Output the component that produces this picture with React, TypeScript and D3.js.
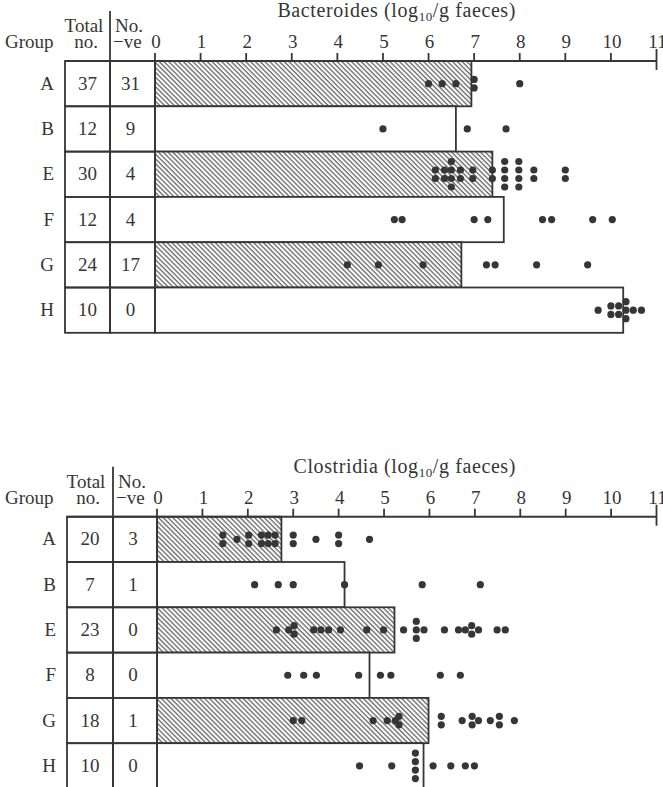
import React, { useEffect, useRef } from "react";
import * as d3 from "d3";

const groups = ["A", "B", "E", "F", "G", "H"];
const ticks = [0, 1, 2, 3, 4, 5, 6, 7, 8, 9, 10, 11];

// Bacteroides
const bactTotal = [37, 12, 30, 12, 24, 10];
const bactNeg = [31, 9, 4, 4, 17, 0];
const bactLevel = [6.94, 6.6, 7.4, 7.65, 6.72, 10.27];
const bactPoints = [
  [6.0, 6.3, 6.6, 7.0, 7.0, 8.0],
  [5.0, 6.85, 7.7],
  [6.15, 6.15, 6.35, 6.35, 6.5, 6.5, 6.5, 6.5, 6.7, 6.7, 6.97, 6.97, 7.4, 7.4,
    7.67, 7.67, 7.67, 7.67, 7.98, 7.98, 7.98, 7.98, 8.31, 8.31, 9.0, 9.0],
  [5.25, 5.42, 7.0, 7.3, 8.5, 8.7, 9.6, 10.03],
  [4.22, 4.9, 5.88, 7.27, 7.46, 8.37, 9.49],
  [9.72, 10.0, 10.0, 10.17, 10.17, 10.33, 10.33, 10.33, 10.49, 10.67],
];

// Clostridia
const closTotal = [20, 7, 23, 8, 18, 10];
const closNeg = [3, 1, 0, 0, 1, 0];
const closLevel = [2.74, 4.13, 5.23, 4.68, 5.98, 5.87];
const closPoints = [
  [1.45, 1.45, 1.76, 2.02, 2.02, 2.3, 2.3, 2.45, 2.45, 2.6, 2.6, 3.0, 3.0, 3.5,
    4.0, 4.0, 4.68],
  [2.15, 2.67, 3.0, 4.13, 5.84, 7.12],
  [2.63, 2.9, 3.02, 3.02, 3.45, 3.61, 3.78, 4.04, 4.62, 4.99, 5.43, 5.71, 5.71,
    5.71, 5.88, 6.33, 6.64, 6.79, 6.93, 6.93, 7.08, 7.49, 7.67],
  [2.88, 3.23, 3.51, 4.44, 4.92, 5.15, 6.24, 6.68],
  [3.0, 3.19, 4.76, 5.07, 5.25, 5.33, 5.33, 6.26, 6.26, 6.72, 6.94, 6.94, 7.08,
    7.34, 7.54, 7.54, 7.87],
  [4.46, 5.17, 5.69, 5.69, 5.69, 5.69, 6.08, 6.47, 6.79, 6.99],
];

const ink = "#363636";
const font = "'Liberation Serif', 'Times New Roman', serif";

function drawPanel(svg, opts) {
  const { axisY, x0, tableLeft, divider, title, totals, negs, levels, points } = opts;
  const rowH = 45.3;
  const x = d3.scaleLinear().domain([0, 11]).range([x0, 656.5]);
  const y = d3
    .scaleBand()
    .domain(groups)
    .range([axisY, axisY + rowH * groups.length]);

  const g = svg.append("g");

  // bars
  g.selectAll("rect.bar")
    .data(groups)
    .join("rect")
    .attr("class", "bar")
    .attr("x", x(0))
    .attr("y", (d) => y(d))
    .attr("width", (d, i) => x(levels[i]) - x(0))
    .attr("height", y.bandwidth())
    .attr("fill", (d, i) => (i % 2 === 0 ? "url(#hatch)" : "white"))
    .attr("stroke", ink)
    .attr("stroke-width", 1.8);

  // table cells
  groups.forEach((grp, i) => {
    g.append("rect")
      .attr("x", tableLeft)
      .attr("y", y(grp))
      .attr("width", divider - tableLeft)
      .attr("height", y.bandwidth())
      .attr("fill", "none")
      .attr("stroke", ink)
      .attr("stroke-width", 1.8);
    g.append("rect")
      .attr("x", divider)
      .attr("y", y(grp))
      .attr("width", x0 - divider)
      .attr("height", y.bandwidth())
      .attr("fill", "none")
      .attr("stroke", ink)
      .attr("stroke-width", 1.8);
    const cy = y(grp) + y.bandwidth() / 2 + 6;
    g.append("text").attr("x", tableLeft - 11).attr("y", cy)
      .attr("text-anchor", "end").text(grp);
    g.append("text").attr("x", (tableLeft + divider) / 2).attr("y", cy)
      .attr("text-anchor", "middle").text(totals[i]);
    g.append("text").attr("x", (divider + x0) / 2 - 2).attr("y", cy)
      .attr("text-anchor", "middle").text(negs[i]);
  });

  // dots, equal values stacked vertically
  const pitch = 8.5;
  groups.forEach((grp, i) => {
    const counts = d3.rollup(points[i], (v) => v.length, (v) => v);
    const seen = new Map();
    const dots = points[i].map((v) => {
      const k = seen.get(v) || 0;
      seen.set(v, k + 1);
      const n = counts.get(v);
      return { v, off: (k - (n - 1) / 2) * pitch };
    });
    g.selectAll(null)
      .data(dots)
      .join("circle")
      .attr("cx", (d) => x(d.v))
      .attr("cy", (d) => y(grp) + y.bandwidth() / 2 + d.off)
      .attr("r", 3.6)
      .attr("fill", ink);
  });

  // axis line and ticks
  g.append("line")
    .attr("x1", tableLeft).attr("x2", x(11))
    .attr("y1", axisY).attr("y2", axisY)
    .attr("stroke", ink).attr("stroke-width", 2);
  g.selectAll("line.tick")
    .data(ticks)
    .join("line")
    .attr("class", "tick")
    .attr("x1", (d) => x(d)).attr("x2", (d) => x(d))
    .attr("y1", (d) => (d === 11 ? axisY - 12 : axisY - 8))
    .attr("y2", (d) => (d === 11 ? axisY + 9 : axisY))
    .attr("stroke", ink).attr("stroke-width", 1.8);
  g.selectAll("text.tl")
    .data(ticks)
    .join("text")
    .attr("class", "tl")
    .attr("x", (d) => x(d) + 1)
    .attr("y", axisY - 13)
    .attr("text-anchor", "middle")
    .text((d) => d);

  // column divider reaching up into header
  g.append("line")
    .attr("x1", divider).attr("x2", divider)
    .attr("y1", axisY - 50).attr("y2", y("H") + y.bandwidth())
    .attr("stroke", ink).attr("stroke-width", 1.8);

  // header
  g.append("text").attr("x", 5).attr("y", axisY - 13).text("Group");
  g.append("text").attr("x", tableLeft + 19).attr("y", axisY - 29)
    .attr("text-anchor", "middle").text("Total");
  g.append("text").attr("x", tableLeft + 21).attr("y", axisY - 13)
    .attr("text-anchor", "middle").text("no.");
  g.append("text").attr("x", divider + 5).attr("y", axisY - 29).text("No.");
  g.append("text").attr("x", divider + 3).attr("y", axisY - 13).text("−ve");

  const t = g.append("text").attr("x", 516).attr("y", axisY - 44)
    .attr("text-anchor", "end").attr("font-size", 20)
    .attr("letter-spacing", 0.6);
  t.append("tspan").text(`${title} (log`);
  t.append("tspan").attr("font-size", 13).attr("dy", 4).text("10");
  t.append("tspan").attr("dy", -4).text("/g faeces)");
}

function App() {
  const ref = useRef(null);
  useEffect(() => {
    const svg = d3.select(ref.current);
    svg.selectAll("*").remove();
    svg.attr("font-family", font).attr("font-size", 19).attr("fill", ink);

    const defs = svg.append("defs");
    const pat = defs
      .append("pattern")
      .attr("id", "hatch")
      .attr("patternUnits", "userSpaceOnUse")
      .attr("width", 3.4)
      .attr("height", 10)
      .attr("patternTransform", "rotate(-45)");
    pat.append("rect").attr("width", 3.4).attr("height", 10).attr("fill", "white");
    pat.append("line")
      .attr("x1", 1).attr("x2", 1).attr("y1", 0).attr("y2", 10)
      .attr("stroke", "#4a4a4a").attr("stroke-width", 1.1);

    drawPanel(svg, {
      axisY: 61, x0: 155, tableLeft: 65, divider: 110, title: "Bacteroides",
      totals: bactTotal, negs: bactNeg, levels: bactLevel, points: bactPoints,
    });
    drawPanel(svg, {
      axisY: 516.7, x0: 157, tableLeft: 67, divider: 113, title: "Clostridia",
      totals: closTotal, negs: closNeg, levels: closLevel, points: closPoints,
    });
  }, []);
  return (
    <svg
      ref={ref}
      width="663"
      height="787"
      style={{ position: "absolute", left: 0, top: 0, background: "white" }}
    ></svg>
  );
}

export default App;
